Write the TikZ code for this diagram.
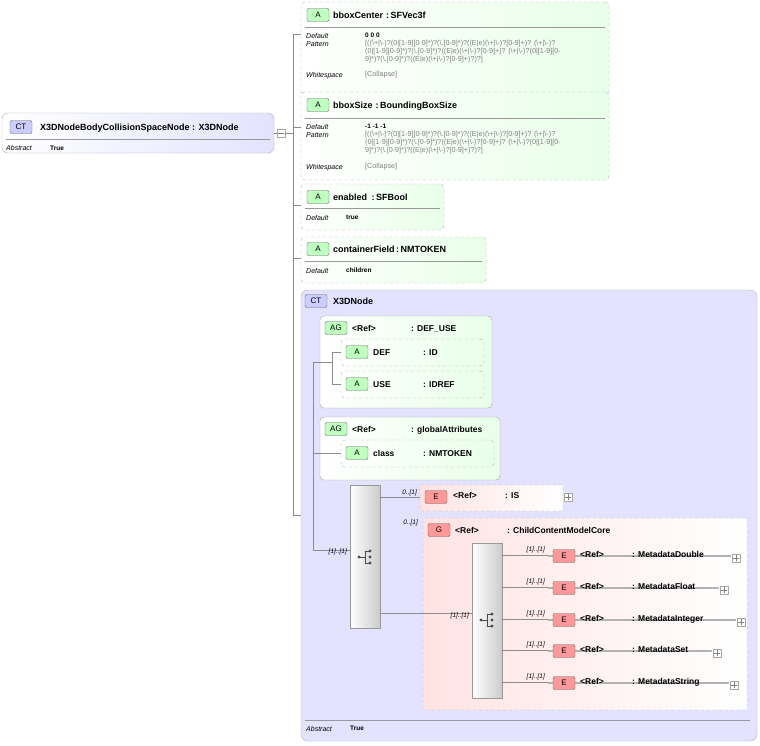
\documentclass[tikz,border=0pt]{standalone}
\usepackage{fontspec}
\setmainfont{Liberation Sans}
\usepackage{tikz}
\usetikzlibrary{positioning}
\colorlet{attrfill}{green!9}
\colorlet{elemfill}{red!11}
\colorlet{ctfill}{blue!11}
\colorlet{lineclr}{black!45}
\tikzset{>=latex}
\begin{document}
\begin{tikzpicture}[x=1pt, y=-1pt,
                line cap=round, line join=round,
                conn/.style={lineclr, thin},
                attr/.style={draw=black!30, dashed, rounded corners=4pt, left color=white, right color=attrfill},
                group/.style={draw=black!35, rounded corners=4pt, left color=white, right color=attrfill},
                elem/.style={draw=black!30, dashed, rounded corners=1pt, left color=elemfill, right color=white},
                elemsolid/.style={draw=black!30, left color=elemfill, right color=white},
                ctbox/.style={draw=black!30, rounded corners=7pt, fill=ctfill},
                seqbox/.style={draw=black!40, left color=white, right color=black!20},
                badge/.style={draw=black!60, rounded corners=2pt, inner sep=0pt, minimum width=22pt, minimum height=13pt, font=\fontsize{8}{8}\selectfont},
                bA/.style={badge, fill=green!25},
                bE/.style={badge, fill=red!40},
                bCT/.style={badge, fill=blue!20},
                title/.style={anchor=base west, inner sep=0pt, font=\fontsize{9}{9}\selectfont\bfseries},
                key/.style={anchor=base west, inner sep=0pt, font=\fontsize{7}{7}\selectfont\itshape},
                val/.style={anchor=base west, inner sep=0pt, font=\fontsize{6.5}{6.5}\selectfont\bfseries},
                gray/.style={anchor=base west, inner sep=0pt, text=black!50, font=\fontsize{7.2}{8}\selectfont},
                mult/.style={anchor=base east, inner sep=0pt, font=\fontsize{6.5}{6.5}\selectfont\itshape},
                plus/.style={draw=black!35, fill=white, minimum size=8pt, inner sep=0pt}]
    \useasboundingbox (0,0) rectangle (760,745);
    \def\bx#1#2#3#4#5#6{ % box from its corners
        \node[#6, minimum width={(#4-#2)*1pt}, minimum height={(#5-#3)*1pt}, inner sep=0pt]
            (#1) at ({(#2+#4)/2},{(#3+#5)/2}) {};}
    \def\seqicon#1#2{ % sequence symbol
        \fill[black!70] (#1-6,#2) circle (1.6pt);
        \draw[black!70] (#1-6,#2) -- (#1,#2) (#1,#2-6) -- (#1,#2+6) (#1,#2-6) -- (#1+4,#2-6) (#1,#2+6) -- (#1+4,#2+6);
        \foreach \d in {-6,0,6} \fill[black!70] (#1+5,#2+\d) circle (1.6pt);}
    \def\patA{\detokenize{[((\+|\-)?(0|[1-9][0-9]*)?(\.[0-9]*)?((E|e)(\+|\-)?[0-9]+)? (\+|\-)?}}
    \def\patB{\detokenize{(0|[1-9][0-9]*)?(\.[0-9]*)?((E|e)(\+|\-)?[0-9]+)? (\+|\-)?(0|[1-9][0-}}
    \def\patC{\detokenize{9]*)?(\.[0-9]*)?((E|e)(\+|\-)?[0-9]+)?)?]}}

    % root complex type
    \bx{root}{2}{113}{274}{153}{ctbox, rounded corners=6pt, left color=white, right color=ctfill}
    \node[bCT] (rootb) at (21,127) {CT};
    \node[title] (roott) at (40,130) {X3DNodeBodyCollisionSpaceNode : X3DNode};
    \draw[black!40] (6,139) -- (270,139);
    \node[key] (rootk) at (6,150) {Abstract}; \node[val] at (50,150) {True};

    % attributes
    \bx{center}{301}{2}{609}{95}{attr}
    \bx{size}{301}{92}{609}{180}{attr}
    \bx{enabled}{301}{184}{444}{230}{attr}
    \bx{cfield}{301}{237}{486}{283}{attr}
    \bx{x3d}{301}{290}{757}{741}{ctbox}

    \node[bA] at (318,15) {A}; \node[title] at (333,18) {bboxCenter\,\,:\,SFVec3f};
    \draw[black!40] (305,27) -- (605,27);
    \node[key] at (306,38) {Default}; \node[val] at (365,37) {0 0 0};
    \node[key] at (306,46) {Pattern};
    \node[gray, align=left, anchor=north west] at (365,40) {\patA\\\patB\\\patC};
    \node[key] at (306,77) {Whitespace}; \node[gray] at (365,76) {[Collapse]};

    \node[bA] at (318,105) {A}; \node[title] at (333,108) {bboxSize\,\,:\,BoundingBoxSize};
    \draw[black!40] (305,118) -- (605,118);
    \node[key] at (306,129) {Default}; \node[val] at (365,128) {-1 -1 -1};
    \node[key] at (306,137) {Pattern};
    \node[gray, align=left, anchor=north west] at (365,131) {\patA\\\patB\\\patC};
    \node[key] at (306,169) {Whitespace}; \node[gray] at (365,168) {[Collapse]};

    \node[bA] at (318,197) {A}; \node[title] at (333,200) {enabled\,\,\,:\,SFBool};
    \draw[black!40] (305,208) -- (440,208);
    \node[key] at (306,220) {Default}; \node[val] at (346,219) {true};

    \node[bA] at (318,249) {A}; \node[title] at (333,252) {containerField\,:\,NMTOKEN};
    \draw[black!40] (305,261) -- (482,261);
    \node[key] at (306,273) {Default}; \node[val] at (346,272) {children};

    % X3DNode contents
    \node[bCT] at (316,301) {CT}; \node[title] at (333,304) {X3DNode};
    \bx{defuse}{320}{316}{492}{408}{group}
    \node[bA] at (336,328) {AG}; \node[title, font=\fontsize{8.5}{8.5}\selectfont\bfseries] at (352,331) {<Ref>};
    \node[title, font=\fontsize{8.5}{8.5}\selectfont\bfseries] at (411,331) {: DEF\_USE};
    \bx{def}{341}{339}{484}{366}{attr}
    \node[bA] at (357,352) {A}; \node[title, font=\fontsize{8.5}{8.5}\selectfont\bfseries] at (373,355) {DEF};
    \node[title, font=\fontsize{8.5}{8.5}\selectfont\bfseries] at (423,355) {: ID};
    \bx{use}{341}{371}{484}{398}{attr}
    \node[bA] at (357,384) {A}; \node[title, font=\fontsize{8.5}{8.5}\selectfont\bfseries] at (373,387) {USE};
    \node[title, font=\fontsize{8.5}{8.5}\selectfont\bfseries] at (423,387) {: IDREF};

    \bx{global}{320}{417}{500}{480}{group}
    \node[bA] at (336,429) {AG}; \node[title, font=\fontsize{8.5}{8.5}\selectfont\bfseries] at (352,432) {<Ref>};
    \node[title, font=\fontsize{8.5}{8.5}\selectfont\bfseries] at (411,432) {: globalAttributes};
    \bx{class}{341}{440}{494}{467}{attr}
    \node[bA] at (357,453) {A}; \node[title, font=\fontsize{8.5}{8.5}\selectfont\bfseries] at (373,456) {class};
    \node[title, font=\fontsize{8.5}{8.5}\selectfont\bfseries] at (423,456) {: NMTOKEN};

    \bx{seq}{350}{485}{380}{628}{seqbox}
    \seqicon{365}{557}
    \bx{is}{420}{485}{563}{511}{elem}
    \node[bE] at (436,497) {E}; \node[title, font=\fontsize{8.5}{8.5}\selectfont\bfseries] at (453,498) {<Ref>};
    \node[title, font=\fontsize{8.5}{8.5}\selectfont\bfseries] at (505,498) {: IS};
    \node[plus] (isp) at (568,497) {}; \draw[black!50] (565,497) -- (571,497) (568,494) -- (568,500);

    \bx{core}{423}{518}{747}{710}{elem}
    \node[bE] at (439,530) {G}; \node[title, font=\fontsize{8.5}{8.5}\selectfont\bfseries] at (455,533) {<Ref>};
    \node[title, font=\fontsize{8.5}{8.5}\selectfont\bfseries] at (507,533) {: ChildContentModelCore};
    \bx{seqb}{472}{543}{502}{698}{seqbox}
    \seqicon{487}{620}
    \foreach \nm/\yc/\xr in {Double/555/730, Float/587/718, Integer/619/735, Set/650/711, String/682/728}{
        \draw[conn] (502,\yc) -- (548,\yc);
        \bx{m\nm}{548}{\yc-12}{\xr}{\yc+13}{elemsolid}
        \node[bE] at (564,\yc+1) {E};
        \node[title, font=\fontsize{8.5}{8.5}\selectfont\bfseries] at (580,\yc+2) {<Ref>};
        \node[title, font=\fontsize{8.5}{8.5}\selectfont\bfseries] at (632,\yc+2) {: Metadata\nm};
        \node[plus] at (\xr+6,\yc+3) {}; \draw[black!50] (\xr+3,\yc+3) -- (\xr+9,\yc+3) (\xr+6,\yc) -- (\xr+6,\yc+6);
        \node[mult] at (545,\yc-4) {[1]..[1]};
    }
    \draw[black!40] (305,720) -- (750,720);
    \node[key] at (306,731) {Abstract}; \node[val] at (350,730) {True};

    % connectors
    \node[plus] (rootp) at (281,133) {}; \draw[black!50] (278,133) -- (284,133);
    \draw[conn] (root.east |- rootp) -- (rootp);
    \coordinate (trunk) at (293,133);
    \draw[conn] (rootp) -- (trunk);
    \draw[conn] (293,34) -- (293,515);
    \foreach \tg/\yc in {center/34, size/127, enabled/205, cfield/258, x3d/515}
        \draw[conn] (293,\yc) -- (\tg.west |- 0,\yc);
    \draw[conn] (313,362) -- (313,550);
    \draw[conn] (313,362) -- (defuse.west |- 0,362);
    \draw[conn] (313,453) -- (global.west |- 0,453);
    \draw[conn] (313,550) -- (seq.west |- 0,550);
    \node[mult] at (347,553) {[1]..[1]};
    \draw[conn] (332,352) -- (332,384);
    \draw[conn] (320,362) -- (332,362);
    \draw[conn] (332,352) -- (def.west |- 0,352);
    \draw[conn] (332,384) -- (use.west |- 0,384);
    \draw[conn] (320,453) -- (class.west |- 0,453);
    \draw[conn] (seq.east |- 0,497) -- (is.west |- 0,497);
    \node[mult] at (417,494) {0..[1]};
    \node[mult] at (418,524) {0..[1]};
    \draw[conn] (seq.east |- 0,613) -- (seqb.west |- 0,613);
    \node[mult] at (469,617) {[1]..[1]};
\end{tikzpicture}
\end{document}
